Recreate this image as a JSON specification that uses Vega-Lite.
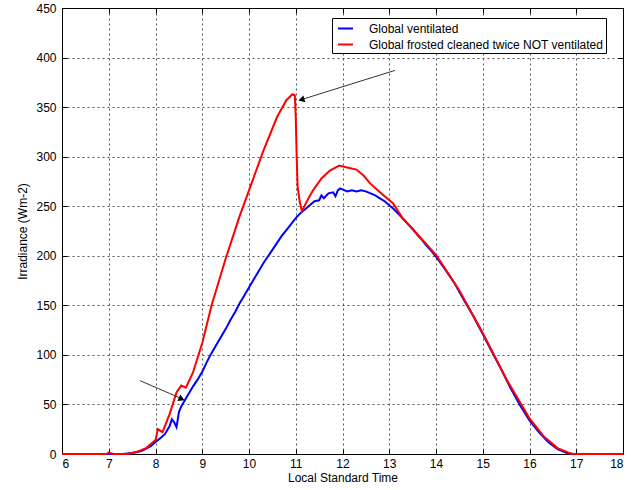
{
  "$schema": "https://vega.github.io/schema/vega-lite/v6.json",
  "autosize": {"type": "none"},
  "width": 561,
  "height": 446,
  "padding": {"left": 62, "top": 8, "right": 8, "bottom": 36},
  "background": "white",
  "config": {
    "font": "Liberation Sans",
    "view": {"stroke": "black", "strokeWidth": 1},
    "axis": {
      "labelFont": "Liberation Sans", "labelFontSize": 12, "labelColor": "black",
      "titleFont": "Liberation Sans", "titleFontSize": 12, "titleFontWeight": "normal", "titleColor": "black",
      "domainColor": "black", "tickColor": "black", "tickSize": -5,
      "gridColor": "#555555", "gridDash": [2, 3], "gridOpacity": 1, "gridWidth": 1
    },
    "legend": {
      "labelFont": "Liberation Sans", "labelFontSize": 12, "labelColor": "black", "labelLimit": 0
    }
  },
  "datasets": {
    "series": [
      {"t": 6.0, "v": 0, "s": "Global ventilated"},
      {"t": 7.0, "v": 0, "s": "Global ventilated"},
      {"t": 7.3, "v": 0, "s": "Global ventilated"},
      {"t": 7.5, "v": 1, "s": "Global ventilated"},
      {"t": 7.7, "v": 3, "s": "Global ventilated"},
      {"t": 7.9, "v": 8, "s": "Global ventilated"},
      {"t": 8.0, "v": 12, "s": "Global ventilated"},
      {"t": 8.1, "v": 16, "s": "Global ventilated"},
      {"t": 8.2, "v": 20, "s": "Global ventilated"},
      {"t": 8.3, "v": 28, "s": "Global ventilated"},
      {"t": 8.35, "v": 35, "s": "Global ventilated"},
      {"t": 8.4, "v": 32, "s": "Global ventilated"},
      {"t": 8.45, "v": 27, "s": "Global ventilated"},
      {"t": 8.5, "v": 42, "s": "Global ventilated"},
      {"t": 8.55, "v": 48, "s": "Global ventilated"},
      {"t": 8.6, "v": 52, "s": "Global ventilated"},
      {"t": 8.7, "v": 60, "s": "Global ventilated"},
      {"t": 8.8, "v": 68, "s": "Global ventilated"},
      {"t": 8.9, "v": 75, "s": "Global ventilated"},
      {"t": 9.0, "v": 83, "s": "Global ventilated"},
      {"t": 9.1, "v": 93, "s": "Global ventilated"},
      {"t": 9.2, "v": 102, "s": "Global ventilated"},
      {"t": 9.3, "v": 110, "s": "Global ventilated"},
      {"t": 9.4, "v": 118, "s": "Global ventilated"},
      {"t": 9.5, "v": 126, "s": "Global ventilated"},
      {"t": 9.6, "v": 135, "s": "Global ventilated"},
      {"t": 9.7, "v": 143, "s": "Global ventilated"},
      {"t": 9.8, "v": 152, "s": "Global ventilated"},
      {"t": 9.9, "v": 160, "s": "Global ventilated"},
      {"t": 10.0, "v": 168, "s": "Global ventilated"},
      {"t": 10.1, "v": 176, "s": "Global ventilated"},
      {"t": 10.2, "v": 184, "s": "Global ventilated"},
      {"t": 10.3, "v": 192, "s": "Global ventilated"},
      {"t": 10.4, "v": 199, "s": "Global ventilated"},
      {"t": 10.5, "v": 206, "s": "Global ventilated"},
      {"t": 10.6, "v": 213, "s": "Global ventilated"},
      {"t": 10.7, "v": 220, "s": "Global ventilated"},
      {"t": 10.8, "v": 226, "s": "Global ventilated"},
      {"t": 10.9, "v": 232, "s": "Global ventilated"},
      {"t": 11.0, "v": 238, "s": "Global ventilated"},
      {"t": 11.1, "v": 243, "s": "Global ventilated"},
      {"t": 11.2, "v": 247, "s": "Global ventilated"},
      {"t": 11.3, "v": 251, "s": "Global ventilated"},
      {"t": 11.4, "v": 255, "s": "Global ventilated"},
      {"t": 11.5, "v": 256, "s": "Global ventilated"},
      {"t": 11.55, "v": 261, "s": "Global ventilated"},
      {"t": 11.6, "v": 258, "s": "Global ventilated"},
      {"t": 11.7, "v": 263, "s": "Global ventilated"},
      {"t": 11.8, "v": 264, "s": "Global ventilated"},
      {"t": 11.85, "v": 260, "s": "Global ventilated"},
      {"t": 11.9, "v": 266, "s": "Global ventilated"},
      {"t": 11.95, "v": 268, "s": "Global ventilated"},
      {"t": 12.0, "v": 267, "s": "Global ventilated"},
      {"t": 12.1, "v": 265, "s": "Global ventilated"},
      {"t": 12.2, "v": 266, "s": "Global ventilated"},
      {"t": 12.3, "v": 265, "s": "Global ventilated"},
      {"t": 12.4, "v": 266, "s": "Global ventilated"},
      {"t": 12.5, "v": 265, "s": "Global ventilated"},
      {"t": 12.6, "v": 263, "s": "Global ventilated"},
      {"t": 12.7, "v": 261, "s": "Global ventilated"},
      {"t": 12.8, "v": 258, "s": "Global ventilated"},
      {"t": 12.9, "v": 255, "s": "Global ventilated"},
      {"t": 13.0, "v": 251, "s": "Global ventilated"},
      {"t": 13.1, "v": 247, "s": "Global ventilated"},
      {"t": 13.2, "v": 242, "s": "Global ventilated"},
      {"t": 13.3, "v": 237, "s": "Global ventilated"},
      {"t": 13.4, "v": 232, "s": "Global ventilated"},
      {"t": 13.5, "v": 227, "s": "Global ventilated"},
      {"t": 13.6, "v": 221, "s": "Global ventilated"},
      {"t": 13.7, "v": 216, "s": "Global ventilated"},
      {"t": 13.8, "v": 210, "s": "Global ventilated"},
      {"t": 13.9, "v": 205, "s": "Global ventilated"},
      {"t": 14.0, "v": 199, "s": "Global ventilated"},
      {"t": 14.2, "v": 186, "s": "Global ventilated"},
      {"t": 14.4, "v": 172, "s": "Global ventilated"},
      {"t": 14.6, "v": 155, "s": "Global ventilated"},
      {"t": 14.8, "v": 139, "s": "Global ventilated"},
      {"t": 15.0, "v": 121, "s": "Global ventilated"},
      {"t": 15.2, "v": 103, "s": "Global ventilated"},
      {"t": 15.4, "v": 85, "s": "Global ventilated"},
      {"t": 15.6, "v": 66, "s": "Global ventilated"},
      {"t": 15.8, "v": 49, "s": "Global ventilated"},
      {"t": 16.0, "v": 34, "s": "Global ventilated"},
      {"t": 16.2, "v": 22, "s": "Global ventilated"},
      {"t": 16.4, "v": 12, "s": "Global ventilated"},
      {"t": 16.6, "v": 5, "s": "Global ventilated"},
      {"t": 16.8, "v": 1, "s": "Global ventilated"},
      {"t": 16.95, "v": 0, "s": "Global ventilated"},
      {"t": 18.0, "v": 0, "s": "Global ventilated"},

      {"t": 6.0, "v": 0, "s": "Global frosted cleaned twice NOT ventilated"},
      {"t": 6.95, "v": 0, "s": "Global frosted cleaned twice NOT ventilated"},
      {"t": 7.0, "v": 1.5, "s": "Global frosted cleaned twice NOT ventilated"},
      {"t": 7.1, "v": 0, "s": "Global frosted cleaned twice NOT ventilated"},
      {"t": 7.4, "v": 0, "s": "Global frosted cleaned twice NOT ventilated"},
      {"t": 7.6, "v": 2, "s": "Global frosted cleaned twice NOT ventilated"},
      {"t": 7.8, "v": 6, "s": "Global frosted cleaned twice NOT ventilated"},
      {"t": 8.0, "v": 14, "s": "Global frosted cleaned twice NOT ventilated"},
      {"t": 8.05, "v": 25, "s": "Global frosted cleaned twice NOT ventilated"},
      {"t": 8.15, "v": 22, "s": "Global frosted cleaned twice NOT ventilated"},
      {"t": 8.3, "v": 40, "s": "Global frosted cleaned twice NOT ventilated"},
      {"t": 8.45, "v": 62, "s": "Global frosted cleaned twice NOT ventilated"},
      {"t": 8.55, "v": 69, "s": "Global frosted cleaned twice NOT ventilated"},
      {"t": 8.65, "v": 67, "s": "Global frosted cleaned twice NOT ventilated"},
      {"t": 8.8, "v": 82, "s": "Global frosted cleaned twice NOT ventilated"},
      {"t": 9.0, "v": 112, "s": "Global frosted cleaned twice NOT ventilated"},
      {"t": 9.2, "v": 150, "s": "Global frosted cleaned twice NOT ventilated"},
      {"t": 9.5, "v": 197, "s": "Global frosted cleaned twice NOT ventilated"},
      {"t": 9.8, "v": 240, "s": "Global frosted cleaned twice NOT ventilated"},
      {"t": 10.0, "v": 266, "s": "Global frosted cleaned twice NOT ventilated"},
      {"t": 10.3, "v": 305, "s": "Global frosted cleaned twice NOT ventilated"},
      {"t": 10.6, "v": 340, "s": "Global frosted cleaned twice NOT ventilated"},
      {"t": 10.8, "v": 357, "s": "Global frosted cleaned twice NOT ventilated"},
      {"t": 10.93, "v": 363, "s": "Global frosted cleaned twice NOT ventilated"},
      {"t": 10.98, "v": 362, "s": "Global frosted cleaned twice NOT ventilated"},
      {"t": 11.0, "v": 340, "s": "Global frosted cleaned twice NOT ventilated"},
      {"t": 11.02, "v": 300, "s": "Global frosted cleaned twice NOT ventilated"},
      {"t": 11.04, "v": 270, "s": "Global frosted cleaned twice NOT ventilated"},
      {"t": 11.08, "v": 256, "s": "Global frosted cleaned twice NOT ventilated"},
      {"t": 11.13, "v": 245, "s": "Global frosted cleaned twice NOT ventilated"},
      {"t": 11.25, "v": 256, "s": "Global frosted cleaned twice NOT ventilated"},
      {"t": 11.37, "v": 266, "s": "Global frosted cleaned twice NOT ventilated"},
      {"t": 11.55, "v": 278, "s": "Global frosted cleaned twice NOT ventilated"},
      {"t": 11.73, "v": 286, "s": "Global frosted cleaned twice NOT ventilated"},
      {"t": 11.93, "v": 291, "s": "Global frosted cleaned twice NOT ventilated"},
      {"t": 12.1, "v": 289, "s": "Global frosted cleaned twice NOT ventilated"},
      {"t": 12.3, "v": 287, "s": "Global frosted cleaned twice NOT ventilated"},
      {"t": 12.45, "v": 281, "s": "Global frosted cleaned twice NOT ventilated"},
      {"t": 12.59, "v": 273, "s": "Global frosted cleaned twice NOT ventilated"},
      {"t": 12.85, "v": 262, "s": "Global frosted cleaned twice NOT ventilated"},
      {"t": 13.08, "v": 253, "s": "Global frosted cleaned twice NOT ventilated"},
      {"t": 13.27, "v": 239, "s": "Global frosted cleaned twice NOT ventilated"},
      {"t": 13.5, "v": 227, "s": "Global frosted cleaned twice NOT ventilated"},
      {"t": 14.0, "v": 201, "s": "Global frosted cleaned twice NOT ventilated"},
      {"t": 14.5, "v": 165, "s": "Global frosted cleaned twice NOT ventilated"},
      {"t": 15.0, "v": 122, "s": "Global frosted cleaned twice NOT ventilated"},
      {"t": 15.5, "v": 76, "s": "Global frosted cleaned twice NOT ventilated"},
      {"t": 16.0, "v": 36, "s": "Global frosted cleaned twice NOT ventilated"},
      {"t": 16.3, "v": 18, "s": "Global frosted cleaned twice NOT ventilated"},
      {"t": 16.6, "v": 6, "s": "Global frosted cleaned twice NOT ventilated"},
      {"t": 16.9, "v": 0, "s": "Global frosted cleaned twice NOT ventilated"},
      {"t": 18.0, "v": 0, "s": "Global frosted cleaned twice NOT ventilated"}
    ],
    "arrows": [
      {"t": 13.12, "v": 387, "t2": 11.15, "v2": 358},
      {"t": 7.67, "v": 74, "t2": 8.55, "v2": 56}
    ],
    "head1": [{"t": 11.12, "v": 357.5}],
    "head2": [{"t": 8.56, "v": 55.5}]
  },
  "layer": [
    {
      "data": {"name": "series"},
      "mark": {"type": "line", "strokeWidth": 2, "interpolate": "linear"},
      "encoding": {
        "x": {"field": "t", "type": "quantitative", "scale": {"domain": [6, 18], "nice": false},
              "axis": {"title": "Local Standard Time", "values": [6,7,8,9,10,11,12,13,14,15,16,17,18], "grid": true, "labelPadding": 9, "titlePadding": 3}},
        "y": {"field": "v", "type": "quantitative", "scale": {"domain": [0, 450], "nice": false},
              "axis": {"title": "Irradiance (Wm-2)", "values": [0,50,100,150,200,250,300,350,400,450], "grid": true, "labelPadding": 11, "titlePadding": 6}},
        "color": {"field": "s", "type": "nominal",
                  "scale": {"domain": ["Global ventilated", "Global frosted cleaned twice NOT ventilated"], "range": ["#0000ff", "#ff0000"]},
                  "legend": {"title": null, "orient": "none", "legendX": 270, "legendY": 10, "symbolType": "stroke", "symbolSize": 225, "symbolStrokeWidth": 2,
                             "strokeColor": "black", "fillColor": "white", "padding": 2, "rowPadding": 1, "labelOffset": 15, "symbolOffset": 3}},
        "order": {"field": "t", "type": "quantitative"}
      }
    },
    {
      "data": {"name": "arrows"},
      "mark": {"type": "rule", "color": "#333333", "strokeWidth": 1},
      "encoding": {
        "x": {"field": "t", "type": "quantitative", "axis": {"orient": "top", "labels": false, "labelOpacity": 0, "title": null, "grid": false, "values": [6,7,8,9,10,11,12,13,14,15,16,17,18]}},
        "y": {"field": "v", "type": "quantitative", "axis": {"orient": "right", "labels": false, "labelOpacity": 0, "title": null, "grid": false, "values": [0,50,100,150,200,250,300,350,400,450]}},
        "x2": {"field": "t2"},
        "y2": {"field": "v2"}
      }
    },
    {
      "data": {"name": "head1"},
      "mark": {"type": "point", "shape": "triangle-up", "filled": true, "color": "black", "size": 50, "angle": 254, "opacity": 1},
      "encoding": {
        "x": {"field": "t", "type": "quantitative", "axis": null},
        "y": {"field": "v", "type": "quantitative", "axis": null}
      }
    },
    {
      "data": {"name": "head2"},
      "mark": {"type": "point", "shape": "triangle-up", "filled": true, "color": "black", "size": 50, "angle": 114, "opacity": 1},
      "encoding": {
        "x": {"field": "t", "type": "quantitative", "axis": null},
        "y": {"field": "v", "type": "quantitative", "axis": null}
      }
    }
  ],
  "resolve": {"axis": {"x": "independent", "y": "independent"}}
}
